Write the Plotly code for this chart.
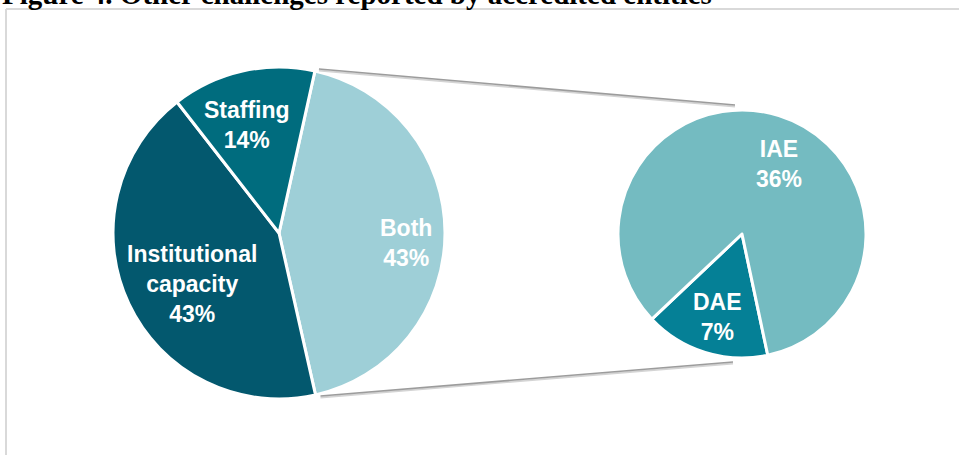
import math
import plotly.graph_objects as go

# ---- data ----
main_labels = ["Both", "Institutional capacity", "Staffing"]
main_values = [43, 43, 14]
main_text = ["Both<br>43%", "Institutional<br>capacity<br>43%", "Staffing<br>14%"]

split_labels = ["DAE", "IAE"]
split_values = [7, 36]
split_text = ["DAE<br>7%", "IAE<br>36%"]

title_text = "Figure 4. Other challenges reported by accredited entities"

# ---- styling / geometry (pixels) ----
W, H = 959, 455
main_colors = ["#9ECFD7", "#03586E", "#006C7E"]
split_colors = ["#058096", "#74BBC1"]
main_cx, main_cy, main_r = 279, 233, 166
split_cx, split_cy, split_r = 742, 234, 124
main_rotation = 12.5
split_rotation = 168
# label placement inside each slice: (radial fraction, angular nudge in degrees)
main_label_pos = [(0.77, 4.5), (0.61, -5), (0.68, -3.7)]
split_label_pos = [(0.70, -1.2), (0.64, 10.8)]
label_font = dict(family="Liberation Sans", size=23, color="white")


def domain(cx, cy, r):
    return dict(x=[(cx - r) / W, (cx + r) / W], y=[1 - (cy + r) / H, 1 - (cy - r) / H])


def px(x, y):
    return x / W, 1 - y / H


def slice_labels(values, texts, rotation, cx, cy, r, placement):
    """Place a bold label in the middle of each clockwise slice."""
    out = []
    total = sum(values)
    start = rotation
    for v, t, (frac, nudge) in zip(values, texts, placement):
        span = 360 * v / total
        mid = math.radians(start + span / 2 + nudge)
        x, y = px(cx + frac * r * math.sin(mid), cy - frac * r * math.cos(mid))
        out.append(dict(text="<b>" + t + "</b>", xref="paper", yref="paper", x=x, y=y,
                        xanchor="center", yanchor="middle", showarrow=False,
                        font=label_font, align="center"))
        start += span
    return out


fig = go.Figure()
fig.add_trace(go.Pie(
    labels=main_labels, values=main_values, textinfo="none",
    sort=False, direction="clockwise", rotation=main_rotation,
    marker=dict(colors=main_colors, line=dict(color="white", width=3)),
    domain=domain(main_cx, main_cy, main_r), hoverinfo="skip", showlegend=False,
))
fig.add_trace(go.Pie(
    labels=split_labels, values=split_values, textinfo="none",
    sort=False, direction="clockwise", rotation=split_rotation,
    marker=dict(colors=split_colors, line=dict(color="white", width=3)),
    domain=domain(split_cx, split_cy, split_r), hoverinfo="skip", showlegend=False,
))

# connector lines from the edges of the "Both" slice to the secondary pie
total = sum(main_values)
a0 = math.radians(main_rotation)
a1 = math.radians(main_rotation + 360 * main_values[0] / total)
start_top = (main_cx + main_r * math.sin(a0) + 4, main_cy - main_r * math.cos(a0) - 2)
start_bot = (main_cx + main_r * math.sin(a1) + 5, main_cy - main_r * math.cos(a1) + 1)
end_top = (split_cx - 7, split_cy - split_r - 5)
end_bot = (split_cx - 9, split_cy + split_r + 4)

shapes = []
for (sx, sy), (ex, ey) in [(start_top, end_top), (start_bot, end_bot)]:
    x0, y0 = px(sx, sy + 1.5)
    x1, y1 = px(ex, ey + 1.5)
    shapes.append(dict(type="line", xref="paper", yref="paper", x0=x0, y0=y0, x1=x1, y1=y1,
                       line=dict(color="#D4D4D4", width=2)))
    x0, y0 = px(sx, sy)
    x1, y1 = px(ex, ey)
    shapes.append(dict(type="line", xref="paper", yref="paper", x0=x0, y0=y0, x1=x1, y1=y1,
                       line=dict(color="#9C9C9C", width=1.6)))

# chart frame (top and left edges)
fx, fy = 6, 9
shapes.append(dict(type="line", xref="paper", yref="paper",
                   x0=px(fx, fy)[0], y0=px(fx, fy)[1], x1=1, y1=px(fx, fy)[1],
                   line=dict(color="#D9D9D9", width=2)))
shapes.append(dict(type="line", xref="paper", yref="paper",
                   x0=px(fx, fy)[0], y0=px(fx, fy)[1], x1=px(fx, fy)[0], y1=0,
                   line=dict(color="#D9D9D9", width=2)))

annotations = []
annotations += slice_labels(main_values, main_text, main_rotation,
                            main_cx, main_cy, main_r, main_label_pos)
annotations += slice_labels(split_values, split_text, split_rotation,
                            split_cx, split_cy, split_r, split_label_pos)
annotations.append(dict(
    text="<b>" + title_text + "</b>", xref="paper", yref="paper",
    x=0, y=1 + 6 / H, xanchor="left", yanchor="middle", showarrow=False,
    font=dict(family="Liberation Serif", size=29, color="black"),
))

fig.update_layout(
    width=W, height=H,
    margin=dict(l=0, r=0, t=0, b=0),
    paper_bgcolor="white", plot_bgcolor="white",
    shapes=shapes,
    annotations=annotations,
)

fig.write_html("out.html")
